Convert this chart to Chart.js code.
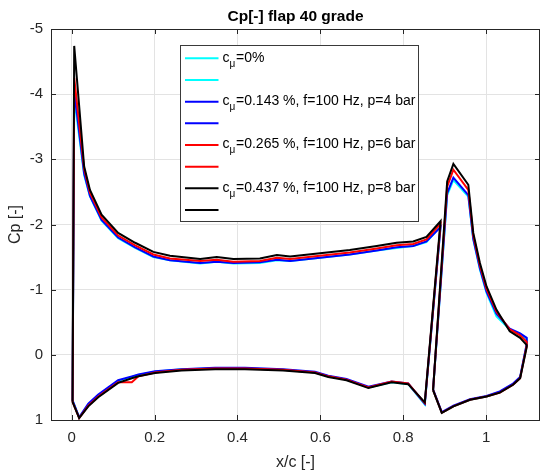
<!DOCTYPE html>
<html>
<head>
<meta charset="utf-8">
<script src="https://cdn.jsdelivr.net/npm/chart.js@4/dist/chart.umd.min.js"></script>
<style>
  body { margin: 0; background: #fff; }
  canvas { display: block; }
</style>
</head>
<body>
<canvas id="cpChart" width="542" height="473"></canvas>
<script>
// Tap positions (x/c) for main element and flap, walked round each profile
const mainX = [0.002, 0.018, 0.040, 0.064, 0.112, 0.145, 0.161, 0.201, 0.265, 0.346, 0.418, 0.51, 0.587, 0.619, 0.663, 0.716, 0.772, 0.812, 0.852,
    0.89, 0.856, 0.824, 0.784, 0.736, 0.671, 0.599, 0.527, 0.495, 0.454, 0.39, 0.35, 0.31, 0.237, 0.197, 0.153, 0.112, 0.072, 0.044, 0.030, 0.006, 0.002];
const flapX = [0.872, 0.893, 0.921, 0.961, 1.001, 1.033, 1.065, 1.082, 1.098,
    1.098, 1.082, 1.057, 1.025, 1.001, 0.985, 0.969, 0.957, 0.921, 0.906, 0.872];

// Cp values, main element
const mainCyan = [0.70, 0.96, 0.76, 0.62, 0.40, 0.34, 0.31, 0.26, 0.22, 0.21, 0.21, 0.23, 0.27, 0.33, 0.38, 0.50, 0.42, 0.45, 0.76,
    -1.97, -1.73, -1.67, -1.64, -1.60, -1.54, -1.49, -1.44, -1.45, -1.41, -1.40, -1.43, -1.40, -1.45, -1.50, -1.64, -1.79, -2.06, -2.43, -2.76, -3.95, 0.70];
const mainBlue = [0.70, 0.96, 0.75, 0.61, 0.39, 0.33, 0.30, 0.25, 0.22, 0.20, 0.20, 0.22, 0.26, 0.32, 0.37, 0.49, 0.41, 0.44, 0.75,
    -1.96, -1.74, -1.67, -1.65, -1.60, -1.54, -1.49, -1.44, -1.46, -1.42, -1.41, -1.43, -1.41, -1.45, -1.51, -1.65, -1.80, -2.07, -2.44, -2.78, -4.05, 0.70];
const mainRed = [0.72, 0.97, 0.78, 0.64, 0.42, 0.42, 0.33, 0.27, 0.23, 0.21, 0.21, 0.23, 0.27, 0.33, 0.38, 0.50, 0.41, 0.44, 0.74,
    -2.01, -1.77, -1.70, -1.68, -1.63, -1.57, -1.52, -1.47, -1.49, -1.44, -1.43, -1.46, -1.44, -1.48, -1.54, -1.68, -1.83, -2.11, -2.49, -2.85, -4.25, 0.72];
const mainBlack = [0.72, 0.97, 0.79, 0.65, 0.43, 0.36, 0.33, 0.28, 0.24, 0.22, 0.22, 0.24, 0.28, 0.34, 0.39, 0.51, 0.42, 0.45, 0.73,
    -2.05, -1.81, -1.74, -1.72, -1.67, -1.61, -1.56, -1.51, -1.53, -1.48, -1.47, -1.50, -1.47, -1.52, -1.58, -1.72, -1.87, -2.15, -2.53, -2.89, -4.74, 0.72];

// Cp values, flap
const flapCyan = [0.54, 0.89, 0.79, 0.69, 0.64, 0.57, 0.45, 0.35, -0.16, -0.24, -0.32, -0.39, -0.59, -0.95, -1.31, -1.77, -2.43, -2.68, -2.45, 0.54];
const flapBlue = [0.53, 0.88, 0.78, 0.68, 0.63, 0.56, 0.44, 0.34, -0.17, -0.26, -0.33, -0.40, -0.63, -0.97, -1.33, -1.78, -2.45, -2.72, -2.48, 0.53];
const flapRed = [0.54, 0.89, 0.79, 0.69, 0.64, 0.58, 0.46, 0.36, -0.14, -0.20, -0.30, -0.39, -0.66, -1.01, -1.37, -1.83, -2.53, -2.84, -2.58, 0.54];
const flapBlack = [0.54, 0.89, 0.79, 0.69, 0.64, 0.58, 0.46, 0.36, -0.12, -0.15, -0.26, -0.36, -0.69, -1.05, -1.41, -1.87, -2.61, -2.93, -2.66, 0.54];

// Legend text after the "c_mu" part
const legendTails = ["=0%", "=0.143 %, f=100 Hz, p=4 bar", "=0.265 %, f=100 Hz, p=6 bar", "=0.437 %, f=100 Hz, p=8 bar"];
const seriesColors = ["#00ffff", "#0000ff", "#ff0000", "#000000"];

// Tick labels
const xTicks = [0, 0.2, 0.4, 0.6, 0.8, 1];
const yTicks = [-5, -4, -3, -2, -1, 0, 1];

const FONT = "'Liberation Sans', Arial, Helvetica, sans-serif";
const AXIS_COLOR = "#262626";

function toPoints(xs, ys) {
    return xs.map((x, i) => ({ x: x, y: ys[i] }));
}

const mainSets = [mainCyan, mainBlue, mainRed, mainBlack];
const flapSets = [flapCyan, flapBlue, flapRed, flapBlack];

// Two datasets per case: main element and flap (flap has the empty legend entry)
const datasets = [];
seriesColors.forEach((color, i) => {
    [toPoints(mainX, mainSets[i]), toPoints(flapX, flapSets[i])].forEach(pts => {
        datasets.push({
            data: pts,
            borderColor: color,
            backgroundColor: color,
            borderWidth: 2,
            pointRadius: 0,
            showLine: true,
            tension: 0,
            order: 4 - i
        });
    });
});

// Box, inward ticks, titles and the legend with the subscript mu
const decorations = {
    id: "decorations",
    afterDatasetsDraw(chart) {
        const ctx = chart.ctx;
        const a = chart.chartArea;
        const xs = chart.scales.x;
        const ys = chart.scales.y;
        ctx.save();

        ctx.strokeStyle = AXIS_COLOR;
        ctx.lineWidth = 1;
        ctx.strokeRect(a.left + 0.5, a.top + 0.5, a.right - a.left - 1, a.bottom - a.top);

        const tl = 5;
        ctx.beginPath();
        xTicks.forEach(v => {
            const px = Math.round(xs.getPixelForValue(v)) + 0.5;
            ctx.moveTo(px, a.bottom); ctx.lineTo(px, a.bottom - tl);
            ctx.moveTo(px, a.top); ctx.lineTo(px, a.top + tl);
        });
        yTicks.forEach(v => {
            const py = Math.round(ys.getPixelForValue(v)) + 0.5;
            ctx.moveTo(a.left, py); ctx.lineTo(a.left + tl, py);
            ctx.moveTo(a.right, py); ctx.lineTo(a.right - tl, py);
        });
        ctx.stroke();

        // titles
        const cx = (a.left + a.right) / 2;
        ctx.fillStyle = "#000";
        ctx.font = "bold 15.5px " + FONT;
        ctx.textAlign = "center";
        ctx.textBaseline = "alphabetic";
        ctx.fillText("Cp[-] flap 40 grade", cx, 21);

        ctx.fillStyle = AXIS_COLOR;
        ctx.font = "16px " + FONT;
        ctx.fillText("x/c [-]", cx, 467);
        ctx.save();
        ctx.translate(20, (a.top + a.bottom) / 2);
        ctx.rotate(-Math.PI / 2);
        ctx.fillText("Cp [-]", 0, 0);
        ctx.restore();

        // legend
        const box = { left: 180, top: 45, right: 418, bottom: 221 };
        ctx.fillStyle = "#fff";
        ctx.fillRect(box.left, box.top, box.right - box.left, box.bottom - box.top);
        ctx.strokeStyle = "#3a3a3a";
        ctx.strokeRect(box.left + 0.5, box.top + 0.5, box.right - box.left, box.bottom - box.top);

        const rowH = 21.67;
        let y = 58.3;
        seriesColors.forEach((color, i) => {
            for (let k = 0; k < 2; k++) {
                ctx.strokeStyle = color;
                ctx.lineWidth = 2;
                ctx.beginPath();
                ctx.moveTo(185, y);
                ctx.lineTo(218.5, y);
                ctx.stroke();
                if (k === 0) {
                    ctx.fillStyle = "#000";
                    ctx.textAlign = "left";
                    ctx.font = "14px " + FONT;
                    ctx.fillText("c", 222.5, y + 3.5);
                    ctx.font = "10px " + FONT;
                    ctx.fillText("\u03bc", 229.5, y + 8.5);
                    ctx.font = "14px " + FONT;
                    ctx.fillText(legendTails[i], 236, y + 3.5);
                }
                y += rowH;
            }
        });
        ctx.restore();
    }
};

new Chart(document.getElementById("cpChart"), {
    type: "scatter",
    data: { datasets: datasets },
    options: {
        responsive: false,
        animation: false,
        layout: { padding: { top: 29, right: 2, left: 0, bottom: 0 } },
        plugins: {
            legend: { display: false },
            tooltip: { enabled: false },
            title: { display: false }
        },
        scales: {
            x: {
                type: "linear",
                min: -0.05,
                max: 1.13,
                afterFit: s => { s.height = 53; },
                afterBuildTicks: s => { s.ticks = xTicks.map(v => ({ value: v })); },
                grid: { color: "#e3e3e3", drawTicks: false },
                border: { display: false },
                ticks: {
                    padding: 9,
                    color: AXIS_COLOR,
                    font: { family: FONT, size: 15 },
                    maxRotation: 0,
                    callback: v => String(+v.toFixed(2))
                }
            },
            y: {
                type: "linear",
                reverse: true,
                min: -5,
                max: 1,
                afterFit: s => { s.width = 51; },
                afterBuildTicks: s => { s.ticks = yTicks.map(v => ({ value: v })); },
                grid: { color: "#e3e3e3", drawTicks: false },
                border: { display: false },
                ticks: {
                    padding: 8,
                    color: AXIS_COLOR,
                    font: { family: FONT, size: 15 },
                    callback: v => String(v)
                }
            }
        }
    },
    plugins: [decorations]
});
</script>
</body>
</html>
